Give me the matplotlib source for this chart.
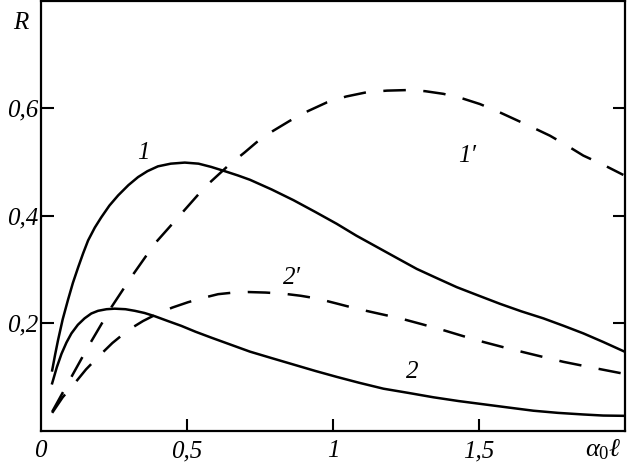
import matplotlib
matplotlib.use("Agg")
import matplotlib.pyplot as plt

plt.rcParams['font.family'] = ['Liberation Serif', 'DejaVu Serif']
plt.rcParams['mathtext.fontset'] = 'custom'
plt.rcParams['mathtext.it'] = 'Liberation Serif:italic'
plt.rcParams['mathtext.rm'] = 'Liberation Serif'

# Curve 1 (solid)
x1 = [0.039, 0.049, 0.059, 0.075, 0.093, 0.11, 0.128, 0.145, 0.162, 0.185, 0.207, 0.235,
      0.265, 0.30, 0.333, 0.365, 0.401, 0.445, 0.493, 0.54, 0.583, 0.63, 0.675, 0.716,
      0.79, 0.865, 0.94, 1.013, 1.08, 1.15, 1.22, 1.287, 1.355, 1.424, 1.5, 1.572,
      1.645, 1.72, 1.79, 1.857, 1.925, 1.994]
y1 = [0.112, 0.141, 0.168, 0.207, 0.243, 0.275, 0.304, 0.330, 0.354, 0.378, 0.397, 0.419,
      0.438, 0.457, 0.472, 0.483, 0.492, 0.497, 0.499, 0.497, 0.491, 0.483, 0.475, 0.467,
      0.449, 0.429, 0.407, 0.385, 0.363, 0.342, 0.321, 0.301, 0.284, 0.267, 0.251, 0.236,
      0.222, 0.209, 0.195, 0.181, 0.165, 0.148]

# Curve 2 (solid)
x2 = [0.039, 0.055, 0.071, 0.088, 0.105, 0.127, 0.15, 0.173, 0.196, 0.225, 0.253,
      0.29, 0.322, 0.355, 0.39, 0.435, 0.481, 0.53, 0.584, 0.65, 0.716, 0.79, 0.865,
      0.94, 1.013, 1.09, 1.173, 1.26, 1.344, 1.43, 1.515, 1.6, 1.686, 1.77, 1.857,
      1.925, 1.994]
y2 = [0.088, 0.118, 0.143, 0.164, 0.181, 0.197, 0.209, 0.218, 0.223, 0.226, 0.227,
      0.226, 0.223, 0.219, 0.213, 0.204, 0.195, 0.184, 0.173, 0.160, 0.147, 0.135, 0.123,
      0.111, 0.100, 0.089, 0.078, 0.070, 0.062, 0.055, 0.049, 0.043, 0.037, 0.033, 0.030,
      0.028, 0.0275]

# Curve 1' (dashed)
x1p = [0.039, 0.105, 0.162, 0.242, 0.31, 0.39, 0.47, 0.561, 0.641, 0.698, 0.739, 0.795,
       0.853, 0.915, 0.979, 1.045, 1.116, 1.185, 1.253, 1.315, 1.378, 1.44, 1.503, 1.565,
       1.629, 1.685, 1.743, 1.80, 1.857, 1.925, 1.994]
y1p = [0.035, 0.100, 0.156, 0.230, 0.286, 0.348, 0.397, 0.453, 0.493, 0.518, 0.537, 0.558,
       0.577, 0.595, 0.611, 0.622, 0.630, 0.633, 0.634, 0.632, 0.627, 0.619, 0.608, 0.594,
       0.578, 0.564, 0.549, 0.531, 0.512, 0.495, 0.476]

# Curve 2' (dashed)
x2p = [0.039, 0.075, 0.116, 0.155, 0.196, 0.245, 0.299, 0.35, 0.401, 0.45, 0.504, 0.555,
       0.607, 0.66, 0.709, 0.77, 0.83, 0.89, 0.945, 1.01, 1.081, 1.155, 1.23, 1.305,
       1.378, 1.445, 1.515, 1.585, 1.652, 1.72, 1.789, 1.89, 1.994]
y2p = [0.033, 0.062, 0.088, 0.114, 0.137, 0.163, 0.187, 0.204, 0.218, 0.229, 0.239, 0.247,
       0.254, 0.257, 0.258, 0.257, 0.255, 0.251, 0.246, 0.237, 0.227, 0.218, 0.209, 0.198,
       0.187, 0.176, 0.165, 0.155, 0.146, 0.137, 0.128, 0.117, 0.106]

xticks = [0, 0.5, 1, 1.5]
xticklabels = ['0', '0,5', '1', '1,5']
yticks = [0.2, 0.4, 0.6]
yticklabels = ['0,2', '0,4', '0,6']

fig = plt.figure(figsize=(6.27, 4.65), dpi=100)
ax = fig.add_axes([0.065, 0.074, 0.932, 0.924])

lw = 1.8
ax.plot(x1, y1, color='black', lw=lw)
ax.plot(x2, y2, color='black', lw=lw)
ax.plot(x1p, y1p, color='black', lw=lw, dashes=(9, 7))
ax.plot(x2p, y2p, color='black', lw=lw, dashes=(9, 7))

ax.set_xlim(0, 2)
ax.set_ylim(0, 0.8)

fs = 18
ax.set_xticks(xticks)
ax.set_xticklabels(xticklabels, fontstyle='italic', fontsize=fs)
ax.set_yticks(yticks)
ax.set_yticklabels(yticklabels, fontstyle='italic', fontsize=fs)
ax.tick_params(axis='x', direction='in', length=9, width=1.5, pad=7)
ax.tick_params(axis='y', direction='in', length=9, width=1.5, pad=2, right=True)
ax.xaxis.get_major_ticks()[0].tick1line.set_visible(False)

for s in ax.spines.values():
    s.set_linewidth(1.6)

tkw = dict(fontstyle='italic', fontsize=fs, ha='center', va='center')
ax.text(0.35, 0.517, '1', **tkw)
ax.text(1.459, 0.512, '1\u2032', **tkw)
ax.text(0.86, 0.285, '2\u2032', **tkw)
ax.text(1.27, 0.11, '2', **tkw)
ax.text(-0.067, 0.759, 'R', clip_on=False, **tkw)
ax.text(1.924, -0.036, r'$\alpha_0\ell$', clip_on=False, fontsize=19, ha='center', va='center')

fig.savefig('out.png', dpi=100)
